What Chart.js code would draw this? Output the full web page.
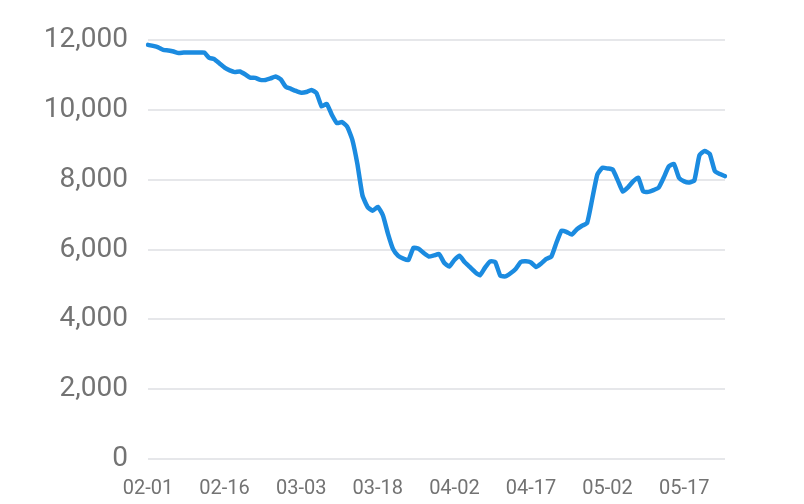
<!DOCTYPE html>
<html>
<head>
<meta charset="utf-8">
<script src="https://cdn.jsdelivr.net/npm/chart.js@4/dist/chart.umd.min.js"></script>
<style>
  html, body { margin: 0; padding: 0; background: #ffffff; }
  #wrap { width: 804px; height: 504px; }
</style>
</head>
<body>
<div id="wrap"><canvas id="c" width="804" height="504"></canvas></div>
<script>
// Dates: 02-01 .. 05-25 (daily)
const startMonth = 2, startDay = 1;
const monthDays = {2: 28, 3: 31, 4: 30, 5: 31};
const dates = [];
(function () {
  let m = startMonth, d = startDay;
  for (let i = 0; i < 114; i++) {
    dates.push(String(m).padStart(2, '0') + '-' + String(d).padStart(2, '0'));
    d++;
    if (d > monthDays[m]) { d = 1; m++; }
  }
})();

const values = [
  11860, 11830, 11790, 11720, 11700, 11670, 11625, 11640, 11640, 11645,
  11640, 11640, 11490, 11450, 11330, 11210, 11130, 11080, 11100, 11020,
  10920, 10915, 10857, 10857, 10900, 10955, 10870, 10660, 10600, 10540,
  10490, 10510, 10570, 10480, 10100, 10170, 9860, 9620, 9650, 9520,
  9150, 8450, 7550, 7220, 7110, 7220, 6980, 6450, 6010, 5820,
  5740, 5700, 6050, 6020, 5900, 5800, 5830, 5870, 5620, 5510,
  5700, 5820, 5640, 5500, 5360, 5260, 5480, 5660, 5640, 5250,
  5230, 5320, 5440, 5640, 5660, 5630, 5500, 5600, 5730, 5800,
  6200, 6540, 6500, 6430, 6580, 6680, 6760, 7450, 8150, 8340,
  8320, 8290, 7980, 7660, 7780, 7950, 8060, 7660, 7650, 7700,
  7770, 8060, 8380, 8450, 8050, 7950, 7920, 7980, 8700, 8820,
  8740, 8250, 8160, 8100
];

const yMin = 0, yMax = 12000, yStep = 2000;
const xLabelEvery = 15;

new Chart(document.getElementById('c'), {
  type: 'line',
  data: {
    labels: dates,
    datasets: [{
      data: values,
      borderColor: '#1b8be0',
      borderWidth: 4.5,
      pointRadius: 0,
      tension: 0.15,
      fill: false,
      borderJoinStyle: 'round',
      borderCapStyle: 'round'
    }]
  },
  options: {
    responsive: false,
    animation: false,
    layout: { padding: { top: 40, right: 79, left: 0, bottom: 0 } },
    plugins: { legend: { display: false }, tooltip: { enabled: false } },
    scales: {
      x: {
        offset: false,
        grid: { display: false, drawTicks: false },
        border: { display: false },
        ticks: {
          autoSkip: false,
          maxRotation: 0,
          minRotation: 0,
          padding: 18,
          color: '#737373',
          font: { family: 'Roboto', size: 20 },
          callback: function (v, i) { return i % xLabelEvery === 0 ? dates[i] : ''; }
        },
        afterFit: function (s) { s.height = 45; }
      },
      y: {
        min: yMin,
        max: yMax,
        grid: { color: '#e6e7ea', lineWidth: 2, drawTicks: false },
        border: { display: false },
        ticks: {
          stepSize: yStep,
          padding: 20,
          color: '#737373',
          font: { family: 'Roboto', size: 28 },
          callback: function (v) { return v.toLocaleString('en-US'); }
        },
        afterFit: function (s) { s.width = 148; }
      }
    }
  }
});
</script>
</body>
</html>
